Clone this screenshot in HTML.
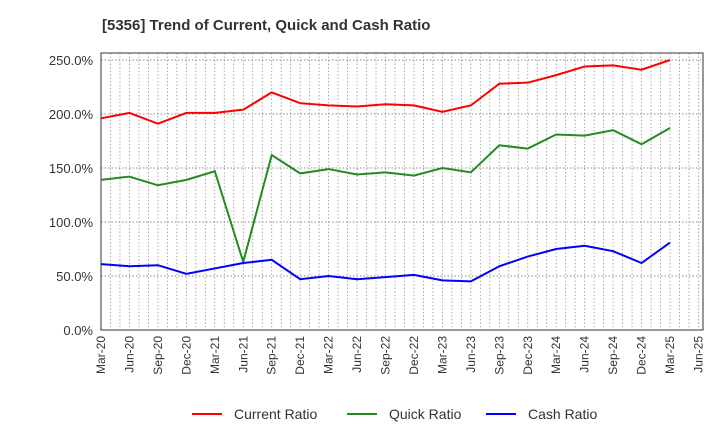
<!DOCTYPE html>
<html><head><meta charset="utf-8"><style>body{margin:0;background:#fff;font-family:"Liberation Sans",sans-serif}</style></head>
<body>
<svg id="c" width="720" height="440" xmlns="http://www.w3.org/2000/svg">
<text x="102" y="30" font-size="15" font-weight="bold" fill="#333">[5356]  Trend of Current, Quick and Cash Ratio</text>
</svg>
<script>
const categories=["Mar-20","Jun-20","Sep-20","Dec-20","Mar-21","Jun-21","Sep-21","Dec-21","Mar-22","Jun-22","Sep-22","Dec-22","Mar-23","Jun-23","Sep-23","Dec-23","Mar-24","Jun-24","Sep-24","Dec-24","Mar-25","Jun-25"];
const currentRatio=[196,201,191,201,201,204,220,210,208,207,209,208,202,208,228,229,236,244,245,241,250];
const quickRatio=[139,142,134,139,147,63,162,145,149,144,146,143,150,146,171,168,181,180,185,172,187];
const cashRatio=[61,59,60,52,57,62,65,47,50,47,49,51,46,45,59,68,75,78,73,62,81];
const yTicks=[0,50,100,150,200,250];
const svg=document.getElementById('c');const NS="http://www.w3.org/2000/svg";
const L=101,R=703,T=53,B=330,step=28.45;
const x=i=>L+i*step, y=v=>B-v*(270/250);
function mk(t,a,p){const e=document.createElementNS(NS,t);for(const k in a)e.setAttribute(k,a[k]);(p||svg).appendChild(e);return e;}
for(let m=1;m<=21*3+2;m++){const xx=L+m*step/3;if(xx>=R)break;
const g=mk('line',{x1:xx,x2:xx,y1:T,y2:B,stroke:'#999','stroke-width':0.8,'stroke-dasharray':'1.5,2'});
}
yTicks.forEach(v=>{const yy=y(v);
if(v>0){const g=mk('line',{x1:L,x2:R,y1:yy,y2:yy,stroke:'#666','stroke-width':0.8,'stroke-dasharray':'1.5,2'});}
const t=mk('text',{x:L-8,y:yy+5,'text-anchor':'end','font-size':13,fill:'#333'});t.textContent=v.toFixed(1)+'%';
});
categories.forEach((c,i)=>{const xx=x(i);
const t=mk('text',{x:0,y:0,'text-anchor':'end','font-size':12,fill:'#333',transform:`translate(${xx+4},${B+6}) rotate(-90)`});t.textContent=c;
});
const ax=mk('path',{d:`M${L},${T}V${B}H${R}V${T}Z`,fill:'none',stroke:'#333','stroke-width':1});

const series=[[currentRatio,'#ff0000','current-ratio-line'],[quickRatio,'#228b22','quick-ratio-line'],[cashRatio,'#0000ff','cash-ratio-line']];
series.forEach(([d,col,n])=>{const p=mk('polyline',{points:d.map((v,i)=>x(i)+','+y(v)).join(' '),fill:'none',stroke:col,'stroke-width':2});
});
const leg=[['Current Ratio','#ff0000',192],['Quick Ratio','#228b22',347],['Cash Ratio','#0000ff',486]];
leg.forEach(([lab,col,lx])=>{const g=mk('g',{});
mk('line',{x1:lx,x2:lx+30,y1:414,y2:414,stroke:col,'stroke-width':2},g);
const t=mk('text',{x:lx+42,y:419,'font-size':14,fill:'#333'},g);t.textContent=lab;});
</script>
</body></html>
